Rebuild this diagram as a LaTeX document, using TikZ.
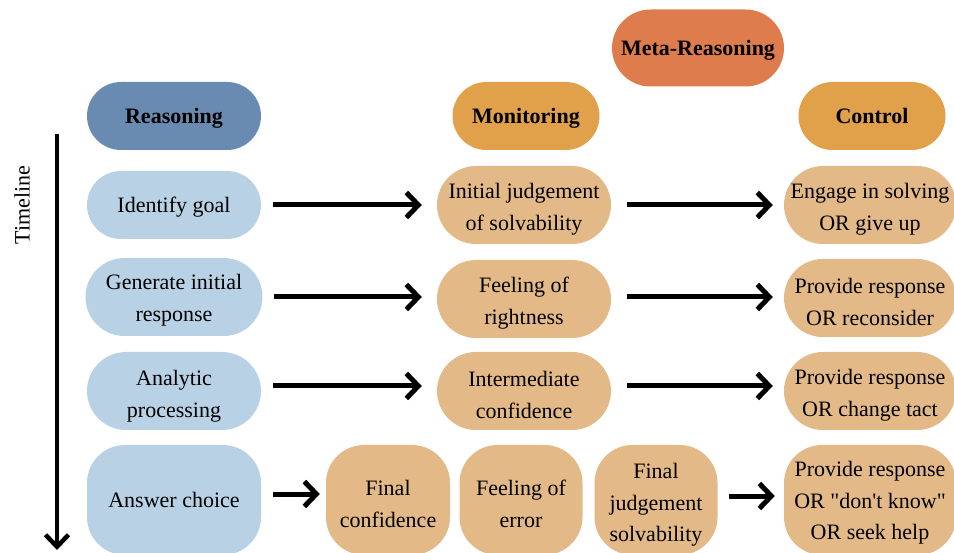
\documentclass[tikz,border=0pt]{standalone}
\usepackage{fontspec}
\setmainfont{Liberation Serif}[Ligatures=TeXOff]
\usetikzlibrary{arrows.meta}
\definecolor{hdrblue}{RGB}{106,139,177}
\definecolor{lblue}{RGB}{184,209,228}
\definecolor{metaor}{RGB}{222,124,78}
\definecolor{hdror}{RGB}{225,160,74}
\definecolor{lor}{RGB}{227,185,136}
\begin{document}
\begin{tikzpicture}[x=1pt,y=-1pt,
  box/.style={inner sep=0pt, align=center, font=\fontsize{22}{31.5}\selectfont},
  one/.style={text height=15pt, text depth=0pt},
  txt/.style={box},
  hdr/.style={box, one, font=\fontsize{22}{31.5}\selectfont\bfseries, minimum height=68pt, rounded corners=34pt},
  pillA/.style={box, minimum width=174pt, minimum height=68pt, rounded corners=34pt},
  pillB/.style={box, minimum width=174pt, minimum height=78pt, rounded corners=39pt},
  tallbox/.style={box, minimum height=110pt, rounded corners=38pt},
  arr/.style={line width=5pt, -{Straight Barb[length=12pt,width=25pt]}},
]
\useasboundingbox (0,0) rectangle (954,553);
\clip (0,0) rectangle (954,553);
% headers
\node[hdr, fill=metaor, minimum width=172pt, minimum height=77pt, rounded corners=38.5pt] (meta) at (698,48) {Meta-Reasoning};
\node[hdr, fill=hdrblue, minimum width=174pt] (reas) at (174,116) {Reasoning};
\node[hdr, fill=hdror, minimum width=147pt] (mon) at (526,116) {Monitoring};
\node[hdr, fill=hdror, minimum width=147pt] (ctrl) at (872,116) {Control};
% timeline
\node[box, one, rotate=90] (tltext) at (22,205) {Timeline};
\coordinate (tltop) at (57,134);
\coordinate (tlbot) at (57,550);
\draw[line width=4.5pt, -{Straight Barb[length=12pt,width=23pt]}] (tltop) -- (tlbot);
% row 1
\node[pillA, one, fill=lblue] (goal) at (174,205) {Identify goal};
\node[pillB, fill=lor] (initj) at (524,205) {};
\node[txt] (initj-t) at ([yshift=-4pt]initj.center) {Initial judgement\\of solvability};
\node[pillB, fill=lor, minimum width=172pt] (engage) at (870,205) {};
\node[txt] (engage-t) at ([yshift=-4pt]engage.center) {Engage in solving\\OR give up};
% row 2
\node[pillB, fill=lblue, minimum width=177pt] (gen) at (174,297) {};
\node[txt] (gen-t) at ([yshift=-3pt]gen.center) {Generate initial\\response};
\node[pillB, fill=lor] (right) at (524,299) {};
\node[txt] (right-t) at ([yshift=-4pt]right.center) {Feeling of\\rightness};
\node[pillB, fill=lor, minimum width=172pt] (recons) at (870,298) {};
\node[txt] (recons-t) at ([yshift=-4pt]recons.center) {Provide response\\OR reconsider};
% row 3
\node[pillB, fill=lblue] (anal) at (174,391) {};
\node[txt] (anal-t) at ([yshift=-5pt]anal.center) {Analytic\\processing};
\node[pillB, fill=lor] (inter) at (524,391) {};
\node[txt] (inter-t) at ([yshift=-4pt]inter.center) {Intermediate\\confidence};
\node[pillB, fill=lor, minimum width=172pt] (tact) at (870,391) {};
\node[txt] (tact-t) at ([yshift=-4pt]tact.center) {Provide response\\OR change tact};
% row 4
\node[tallbox, one, fill=lblue, minimum width=174pt] (ans) at (174,500) {Answer choice};
\node[tallbox, fill=lor, minimum width=124pt] (fconf) at (388,500) {};
\node[txt] (fconf-t) at ([yshift=-4pt]fconf.center) {Final\\confidence};
\node[tallbox, fill=lor, minimum width=123pt] (ferr) at (521,500) {};
\node[txt] (ferr-t) at ([yshift=-4pt]ferr.center) {Feeling of\\error};
\node[tallbox, fill=lor, minimum width=123pt] (fjudg) at (656,500) {};
\node[txt] (fjudg-t) at ([yshift=-5pt]fjudg.center) {Final\\judgement\\solvability};
\node[tallbox, fill=lor, minimum width=172pt] (help) at (870,500) {};
\node[txt] (help-t) at ([yshift=-3pt]help.center) {Provide response\\OR "don't know"\\OR seek help};
% arrows
\draw[arr, shorten <=12pt, shorten >=15pt] (goal.east) -- (initj.west);
\draw[arr, shorten <=16pt, shorten >=11pt] (initj.east) -- (engage.west);
\draw[arr, shorten <=11pt, shorten >=15pt] (gen.east) -- (gen.east -| right.west);
\draw[arr, shorten <=16pt, shorten >=11pt] (gen.east -| right.east) -- (gen.east -| recons.west);
\draw[arr, shorten <=12pt, shorten >=15pt] ([yshift=5pt]anal.east) -- ([yshift=5pt]inter.west);
\draw[arr, shorten <=16pt, shorten >=11pt] ([yshift=5pt]inter.east) -- ([yshift=5pt]tact.west);
\draw[arr, shorten <=12pt, shorten >=6pt] ([yshift=6pt]ans.east) -- ([yshift=6pt]fconf.west);
\draw[arr, shorten <=11pt, shorten >=9pt] ([yshift=4pt]fjudg.east) -- ([yshift=4pt]help.west);
\end{tikzpicture}
\end{document}
